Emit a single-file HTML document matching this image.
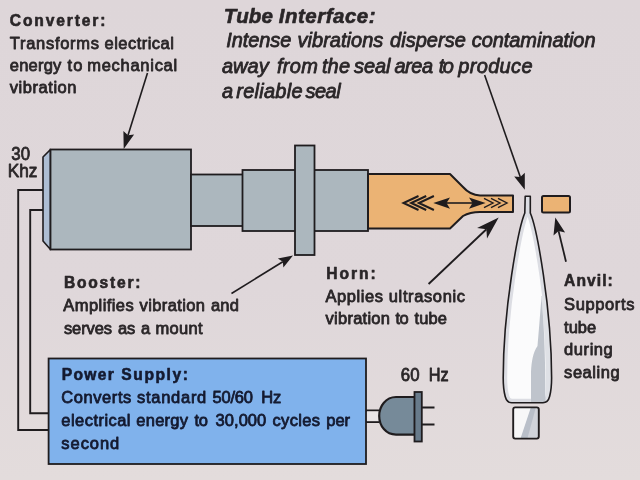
<!DOCTYPE html>
<html><head><meta charset="utf-8"><title>Ultrasonic tube sealing</title>
<style>
html,body{margin:0;padding:0;background:#dfd7da;}
body{width:640px;height:480px;overflow:hidden;font-family:"Liberation Sans",sans-serif;}
svg{display:block;filter:blur(0.45px);font-family:"Liberation Sans",sans-serif;}
</style></head>
<body>
<svg width="640" height="480" viewBox="0 0 640 480">
<defs><linearGradient id="bg" x1="0" y1="0" x2="0" y2="1"><stop offset="0" stop-color="#ded6d9"/><stop offset="0.6" stop-color="#dfd7da"/><stop offset="1" stop-color="#e3dcdc"/></linearGradient></defs>
<rect x="0" y="0" width="640" height="480" fill="url(#bg)"/>
<path d="M43,190 H18.2 V430 H49" fill="none" stroke="#1f1c1e" stroke-width="1.9"/>
<path d="M43,210 H30.2 V413.2 H49" fill="none" stroke="#1f1c1e" stroke-width="1.9"/>
<polygon points="50.5,149.5 43,157 43,241 50.5,249.5" fill="#adbdd3" stroke="#1f1c1e" stroke-width="1.6" stroke-linejoin="round"/>
<rect x="50.5" y="149.5" width="140.5" height="100" fill="#acb7be" stroke="#1f1c1e" stroke-width="1.8"/>
<rect x="191" y="174.5" width="52" height="51.5" fill="#acb7be" stroke="#1f1c1e" stroke-width="1.8"/>
<rect x="242.5" y="170" width="125.5" height="61" fill="#acb7be" stroke="#1f1c1e" stroke-width="1.8"/>
<rect x="295" y="145.5" width="19.5" height="109.5" fill="#acb7be" stroke="#1f1c1e" stroke-width="1.8"/>
<path d="M368,174 H450 L463,187 Q470,195 480,195.5 H513 V212 H480 Q470,212 463,216 L450,228.5 H368 Z" fill="#ebb374" stroke="#1f1c1e" stroke-width="2" stroke-linejoin="round"/>
<rect x="542" y="196" width="28" height="16.5" rx="1.5" fill="#ebb374" stroke="#1f1c1e" stroke-width="2"/>
<polyline points="418.5,196 403.5,203 418.5,210" fill="none" stroke="#1f1c1e" stroke-width="2"/>
<polyline points="426.2,196 411.2,203 426.2,210" fill="none" stroke="#1f1c1e" stroke-width="2"/>
<polyline points="433.9,196 418.9,203 433.9,210" fill="none" stroke="#1f1c1e" stroke-width="2"/>
<polyline points="484,198.4 493,203 484,207.6" fill="none" stroke="#1f1c1e" stroke-width="1.4"/>
<polyline points="491,198.4 500,203 491,207.6" fill="none" stroke="#1f1c1e" stroke-width="1.4"/>
<polyline points="498,198.4 507,203 498,207.6" fill="none" stroke="#1f1c1e" stroke-width="1.4"/>
<line x1="445" y1="203" x2="474" y2="203" stroke="#1f1c1e" stroke-width="1.6"/>
<polygon points="433.3,203 450,197.5 446.5,203 450,208.7" fill="#1f1c1e"/>
<polygon points="485.6,203 469,197.5 472.5,203 469,208.7" fill="#1f1c1e"/>
<clipPath id="tc"><path d="M525.2,196.3 H530.3 V213 C536.8,228 551.6,308 551.6,378 C551.6,386 550.8,392 549.6,396.5 Q548,402.7 543,402.7 H511.8 Q506.8,402.7 505.2,396.5 C504,392 503.2,386 503.2,378 C503.2,308 518.5,228 524.8,213 Z"/></clipPath>
<path d="M525.2,196.3 H530.3 V213 C536.8,228 551.6,308 551.6,378 C551.6,386 550.8,392 549.6,396.5 Q548,402.7 543,402.7 H511.8 Q506.8,402.7 505.2,396.5 C504,392 503.2,386 503.2,378 C503.2,308 518.5,228 524.8,213 Z" fill="#fbfbfc"/>
<g clip-path="url(#tc)"><path d="M525.2,196.3 H530.3 V213 C536.8,228 551.6,308 551.6,378 C551.6,386 550.8,392 549.6,396.5 Q548,402.7 543,402.7 H511.8 Q506.8,402.7 505.2,396.5 C504,392 503.2,386 503.2,378 C503.2,308 518.5,228 524.8,213 Z" fill="none" stroke="#dcdde3" stroke-width="8"/><path d="M541,296 C544,320 546,350 546,404 H553 V296 Z" fill="#dfe1e6"/><path d="M541.5,297 C543,315 545.5,340 545.5,404 H531 V372 C531.5,362 533,352 537.5,346 C538.5,335 540,315 541.5,297 Z" fill="#bfc4cc"/></g>
<path d="M525.2,196.3 H530.3 V213 C536.8,228 551.6,308 551.6,378 C551.6,386 550.8,392 549.6,396.5 Q548,402.7 543,402.7 H511.8 Q506.8,402.7 505.2,396.5 C504,392 503.2,386 503.2,378 C503.2,308 518.5,228 524.8,213 Z" fill="none" stroke="#1f1c1e" stroke-width="1.6" stroke-linejoin="round"/>
<clipPath id="cc"><rect x="513.2" y="407.4" width="25.6" height="31.2" rx="2"/></clipPath>
<rect x="513.2" y="407.4" width="25.6" height="31.2" rx="2" fill="#f7f7f8"/>
<g clip-path="url(#cc)"><path d="M536,407 L523,440 H540 V407 Z" fill="#d0d3da"/><path d="M531,407 L520,440 H527 L536,407 Z" fill="#b9bfc9"/></g>
<rect x="513.2" y="407.4" width="25.6" height="31.2" rx="2" fill="none" stroke="#1f1c1e" stroke-width="1.9"/>
<rect x="48.6" y="358.5" width="317.4" height="105.5" fill="#80b2ec" stroke="#1f1c1e" stroke-width="1.8"/>
<path d="M366,410.5 H379 M366,422 H379" stroke="#1f1c1e" stroke-width="1.8" fill="none"/>
<rect x="367" y="411.4" width="12" height="9.8" fill="#e9e5e6"/>
<path d="M415,397 H396 C386,397 379.2,406 379.2,416 C379.2,426 386,434.6 396,434.6 H415 Z" fill="#768a99" stroke="#1f1c1e" stroke-width="2.2"/>
<rect x="414.5" y="392" width="7.3" height="49.5" fill="#687b8b" stroke="#1f1c1e" stroke-width="1.8"/>
<path d="M422,407.5 H434.5 M422,424.5 H434.5" stroke="#1f1c1e" stroke-width="2"/>
<line x1="147.5" y1="72.9" x2="128.0" y2="135.2" stroke="#1f1c1e" stroke-width="1.6"/><polygon points="123.7,149.0 123.4,131.1 128.0,135.2 134.1,134.4" fill="#1f1c1e"/>
<line x1="484.6" y1="75.1" x2="520.3" y2="177.1" stroke="#1f1c1e" stroke-width="1.6"/><polygon points="524.8,189.8 514.2,176.6 520.3,177.1 524.8,172.8" fill="#1f1c1e"/>
<line x1="231.5" y1="293.5" x2="282.8" y2="261.7" stroke="#1f1c1e" stroke-width="1.6"/><polygon points="293.0,255.4 283.4,267.5 282.8,261.7 277.9,258.6" fill="#1f1c1e"/>
<line x1="428.6" y1="284.0" x2="486.4" y2="229.2" stroke="#1f1c1e" stroke-width="1.9"/><polygon points="498.7,217.5 487.0,238.6 486.4,229.2 477.1,228.1" fill="#1f1c1e"/>
<line x1="566.0" y1="261.7" x2="558.6" y2="231.1" stroke="#1f1c1e" stroke-width="1.8"/><polygon points="555.3,217.5 565.1,232.6 558.6,231.1 553.5,235.4" fill="#1f1c1e"/>
<text x="9.8" y="26" font-size="15.6" font-weight="bold" font-style="normal" fill="#2a2628" stroke="#2a2628" stroke-width="0.6000000000000001" stroke-linejoin="round" textLength="95.7" lengthAdjust="spacing">Converter:</text>
<text x="9.8" y="48.8" font-size="16.5" font-weight="normal" font-style="normal" fill="#2a2628" stroke="#2a2628" stroke-width="0.8" stroke-linejoin="round" textLength="89.2" lengthAdjust="spacing">Transforms</text><text x="104.6" y="48.8" font-size="16.5" font-weight="normal" font-style="normal" fill="#2a2628" stroke="#2a2628" stroke-width="0.8" stroke-linejoin="round" textLength="69.2" lengthAdjust="spacing">electrical</text>
<text x="9.8" y="71.2" font-size="16.5" font-weight="normal" font-style="normal" fill="#2a2628" stroke="#2a2628" stroke-width="0.8" stroke-linejoin="round" textLength="51.5" lengthAdjust="spacing">energy</text><text x="67.5" y="71.2" font-size="16.5" font-weight="normal" font-style="normal" fill="#2a2628" stroke="#2a2628" stroke-width="0.8" stroke-linejoin="round" textLength="14.9" lengthAdjust="spacing">to</text><text x="87.2" y="71.2" font-size="16.5" font-weight="normal" font-style="normal" fill="#2a2628" stroke="#2a2628" stroke-width="0.8" stroke-linejoin="round" textLength="90.0" lengthAdjust="spacing">mechanical</text>
<text x="9.8" y="93" font-size="16.5" font-weight="normal" font-style="normal" fill="#2a2628" stroke="#2a2628" stroke-width="0.8" stroke-linejoin="round" textLength="66.7" lengthAdjust="spacing">vibration</text>
<text x="223.8" y="22.5" font-size="20.5" font-weight="bold" font-style="italic" fill="#2a2628" stroke="#2a2628" stroke-width="0.6000000000000001" stroke-linejoin="round" textLength="49.2" lengthAdjust="spacing">Tube</text><text x="278.8" y="22.5" font-size="20.5" font-weight="bold" font-style="italic" fill="#2a2628" stroke="#2a2628" stroke-width="0.6000000000000001" stroke-linejoin="round" textLength="96.8" lengthAdjust="spacing">Interface:</text>
<text x="226.3" y="47.3" font-size="20" font-weight="normal" font-style="italic" fill="#2a2628" stroke="#2a2628" stroke-width="0.8" stroke-linejoin="round" textLength="65.0" lengthAdjust="spacing">Intense</text><text x="297.5" y="47.3" font-size="20" font-weight="normal" font-style="italic" fill="#2a2628" stroke="#2a2628" stroke-width="0.8" stroke-linejoin="round" textLength="85.8" lengthAdjust="spacing">vibrations</text><text x="390" y="47.3" font-size="20" font-weight="normal" font-style="italic" fill="#2a2628" stroke="#2a2628" stroke-width="0.8" stroke-linejoin="round" textLength="75.8" lengthAdjust="spacing">disperse</text><text x="471.8" y="47.3" font-size="20" font-weight="normal" font-style="italic" fill="#2a2628" stroke="#2a2628" stroke-width="0.8" stroke-linejoin="round" textLength="123.7" lengthAdjust="spacing">contamination</text>
<text x="221.9" y="73.2" font-size="20" font-weight="normal" font-style="italic" fill="#2a2628" stroke="#2a2628" stroke-width="0.8" stroke-linejoin="round" textLength="46.9" lengthAdjust="spacing">away</text><text x="276.9" y="73.2" font-size="20" font-weight="normal" font-style="italic" fill="#2a2628" stroke="#2a2628" stroke-width="0.8" stroke-linejoin="round" textLength="41.1" lengthAdjust="spacing">from</text><text x="321.9" y="73.2" font-size="20" font-weight="normal" font-style="italic" fill="#2a2628" stroke="#2a2628" stroke-width="0.8" stroke-linejoin="round" textLength="28.1" lengthAdjust="spacing">the</text><text x="354" y="73.2" font-size="20" font-weight="normal" font-style="italic" fill="#2a2628" stroke="#2a2628" stroke-width="0.8" stroke-linejoin="round" textLength="36.5" lengthAdjust="spacing">seal</text><text x="394.5" y="73.2" font-size="20" font-weight="normal" font-style="italic" fill="#2a2628" stroke="#2a2628" stroke-width="0.8" stroke-linejoin="round" textLength="38.5" lengthAdjust="spacing">area</text><text x="438.8" y="73.2" font-size="20" font-weight="normal" font-style="italic" fill="#2a2628" stroke="#2a2628" stroke-width="0.8" stroke-linejoin="round" textLength="15.0" lengthAdjust="spacing">to</text><text x="458.3" y="73.2" font-size="20" font-weight="normal" font-style="italic" fill="#2a2628" stroke="#2a2628" stroke-width="0.8" stroke-linejoin="round" textLength="74.2" lengthAdjust="spacing">produce</text>
<text x="221.9" y="97.5" font-size="20" font-weight="normal" font-style="italic" fill="#2a2628" stroke="#2a2628" stroke-width="0.8" stroke-linejoin="round" textLength="10.9" lengthAdjust="spacing">a</text><text x="236.3" y="97.5" font-size="20" font-weight="normal" font-style="italic" fill="#2a2628" stroke="#2a2628" stroke-width="0.8" stroke-linejoin="round" textLength="66.2" lengthAdjust="spacing">reliable</text><text x="305.6" y="97.5" font-size="20" font-weight="normal" font-style="italic" fill="#2a2628" stroke="#2a2628" stroke-width="0.8" stroke-linejoin="round" textLength="35.0" lengthAdjust="spacing">seal</text>
<text x="11.3" y="160" font-size="19" font-weight="normal" font-style="normal" fill="#2a2628" stroke="#2a2628" stroke-width="0.8" stroke-linejoin="round" textLength="18.7" lengthAdjust="spacingAndGlyphs">30</text>
<text x="7.8" y="177.2" font-size="19" font-weight="normal" font-style="normal" fill="#2a2628" stroke="#2a2628" stroke-width="0.8" stroke-linejoin="round" textLength="29.7" lengthAdjust="spacingAndGlyphs">Khz</text>
<text x="63.9" y="288.2" font-size="15.6" font-weight="bold" font-style="normal" fill="#2a2628" stroke="#2a2628" stroke-width="0.6000000000000001" stroke-linejoin="round" textLength="76.6" lengthAdjust="spacing">Booster:</text>
<text x="63.3" y="311.2" font-size="16.5" font-weight="normal" font-style="normal" fill="#2a2628" stroke="#2a2628" stroke-width="0.8" stroke-linejoin="round" textLength="70.4" lengthAdjust="spacing">Amplifies</text><text x="139.6" y="311.2" font-size="16.5" font-weight="normal" font-style="normal" fill="#2a2628" stroke="#2a2628" stroke-width="0.8" stroke-linejoin="round" textLength="65.4" lengthAdjust="spacing">vibration</text><text x="210.9" y="311.2" font-size="16.5" font-weight="normal" font-style="normal" fill="#2a2628" stroke="#2a2628" stroke-width="0.8" stroke-linejoin="round" textLength="28.1" lengthAdjust="spacing">and</text>
<text x="63.9" y="334" font-size="16.5" font-weight="normal" font-style="normal" fill="#2a2628" stroke="#2a2628" stroke-width="0.8" stroke-linejoin="round" textLength="48.1" lengthAdjust="spacing">serves</text><text x="118" y="334" font-size="16.5" font-weight="normal" font-style="normal" fill="#2a2628" stroke="#2a2628" stroke-width="0.8" stroke-linejoin="round" textLength="17.2" lengthAdjust="spacing">as</text><text x="141" y="334" font-size="16.5" font-weight="normal" font-style="normal" fill="#2a2628" stroke="#2a2628" stroke-width="0.8" stroke-linejoin="round" textLength="8.4" lengthAdjust="spacing">a</text><text x="155.4" y="334" font-size="16.5" font-weight="normal" font-style="normal" fill="#2a2628" stroke="#2a2628" stroke-width="0.8" stroke-linejoin="round" textLength="47.2" lengthAdjust="spacing">mount</text>
<text x="326.3" y="278.8" font-size="15.6" font-weight="bold" font-style="normal" fill="#2a2628" stroke="#2a2628" stroke-width="0.6000000000000001" stroke-linejoin="round" textLength="49.5" lengthAdjust="spacing">Horn:</text>
<text x="325.5" y="301.6" font-size="16.5" font-weight="normal" font-style="normal" fill="#2a2628" stroke="#2a2628" stroke-width="0.8" stroke-linejoin="round" textLength="57.5" lengthAdjust="spacing">Applies</text><text x="388.8" y="301.6" font-size="16.5" font-weight="normal" font-style="normal" fill="#2a2628" stroke="#2a2628" stroke-width="0.8" stroke-linejoin="round" textLength="76.2" lengthAdjust="spacing">ultrasonic</text>
<text x="325.5" y="324.2" font-size="16.5" font-weight="normal" font-style="normal" fill="#2a2628" stroke="#2a2628" stroke-width="0.8" stroke-linejoin="round" textLength="64.5" lengthAdjust="spacing">vibration</text><text x="395.5" y="324.2" font-size="16.5" font-weight="normal" font-style="normal" fill="#2a2628" stroke="#2a2628" stroke-width="0.8" stroke-linejoin="round" textLength="13.3" lengthAdjust="spacing">to</text><text x="414.5" y="324.2" font-size="16.5" font-weight="normal" font-style="normal" fill="#2a2628" stroke="#2a2628" stroke-width="0.8" stroke-linejoin="round" textLength="32.5" lengthAdjust="spacing">tube</text>
<text x="564.1" y="286.4" font-size="15.6" font-weight="bold" font-style="normal" fill="#2a2628" stroke="#2a2628" stroke-width="0.6000000000000001" stroke-linejoin="round" textLength="48.7" lengthAdjust="spacing">Anvil:</text>
<text x="564.1" y="309.8" font-size="16.5" font-weight="normal" font-style="normal" fill="#2a2628" stroke="#2a2628" stroke-width="0.8" stroke-linejoin="round" textLength="70.3" lengthAdjust="spacing">Supports</text>
<text x="564.1" y="332.7" font-size="16.5" font-weight="normal" font-style="normal" fill="#2a2628" stroke="#2a2628" stroke-width="0.8" stroke-linejoin="round" textLength="32.0" lengthAdjust="spacing">tube</text>
<text x="564.1" y="355.4" font-size="16.5" font-weight="normal" font-style="normal" fill="#2a2628" stroke="#2a2628" stroke-width="0.8" stroke-linejoin="round" textLength="48.7" lengthAdjust="spacing">during</text>
<text x="564.1" y="377.8" font-size="16.5" font-weight="normal" font-style="normal" fill="#2a2628" stroke="#2a2628" stroke-width="0.8" stroke-linejoin="round" textLength="55.5" lengthAdjust="spacing">sealing</text>
<text x="61.8" y="380" font-size="15.6" font-weight="bold" font-style="normal" fill="#141a30" stroke="#141a30" stroke-width="0.6000000000000001" stroke-linejoin="round" textLength="52.0" lengthAdjust="spacing">Power</text><text x="121.3" y="380" font-size="15.6" font-weight="bold" font-style="normal" fill="#141a30" stroke="#141a30" stroke-width="0.6000000000000001" stroke-linejoin="round" textLength="66.7" lengthAdjust="spacing">Supply:</text>
<text x="61.3" y="403" font-size="16.5" font-weight="normal" font-style="normal" fill="#141a30" stroke="#141a30" stroke-width="0.8" stroke-linejoin="round" textLength="70.0" lengthAdjust="spacing">Converts</text><text x="137" y="403" font-size="16.5" font-weight="normal" font-style="normal" fill="#141a30" stroke="#141a30" stroke-width="0.8" stroke-linejoin="round" textLength="69.3" lengthAdjust="spacing">standard</text><text x="212.5" y="403" font-size="16.5" font-weight="normal" font-style="normal" fill="#141a30" stroke="#141a30" stroke-width="0.8" stroke-linejoin="round" textLength="40.5" lengthAdjust="spacing">50/60</text><text x="261.3" y="403" font-size="16.5" font-weight="normal" font-style="normal" fill="#141a30" stroke="#141a30" stroke-width="0.8" stroke-linejoin="round" textLength="20.0" lengthAdjust="spacing">Hz</text>
<text x="61.3" y="426" font-size="16.5" font-weight="normal" font-style="normal" fill="#141a30" stroke="#141a30" stroke-width="0.8" stroke-linejoin="round" textLength="69.2" lengthAdjust="spacing">electrical</text><text x="136.3" y="426" font-size="16.5" font-weight="normal" font-style="normal" fill="#141a30" stroke="#141a30" stroke-width="0.8" stroke-linejoin="round" textLength="51.7" lengthAdjust="spacing">energy</text><text x="194.5" y="426" font-size="16.5" font-weight="normal" font-style="normal" fill="#141a30" stroke="#141a30" stroke-width="0.8" stroke-linejoin="round" textLength="13.5" lengthAdjust="spacing">to</text><text x="215.5" y="426" font-size="16.5" font-weight="normal" font-style="normal" fill="#141a30" stroke="#141a30" stroke-width="0.8" stroke-linejoin="round" textLength="50.8" lengthAdjust="spacing">30,000</text><text x="272.5" y="426" font-size="16.5" font-weight="normal" font-style="normal" fill="#141a30" stroke="#141a30" stroke-width="0.8" stroke-linejoin="round" textLength="47.5" lengthAdjust="spacing">cycles</text><text x="326.3" y="426" font-size="16.5" font-weight="normal" font-style="normal" fill="#141a30" stroke="#141a30" stroke-width="0.8" stroke-linejoin="round" textLength="23.7" lengthAdjust="spacing">per</text>
<text x="61.3" y="448.7" font-size="16.5" font-weight="normal" font-style="normal" fill="#141a30" stroke="#141a30" stroke-width="0.8" stroke-linejoin="round" textLength="58.0" lengthAdjust="spacing">second</text>
<text x="400.8" y="380.5" font-size="18.5" font-weight="normal" font-style="normal" fill="#2a2628" stroke="#2a2628" stroke-width="0.8" stroke-linejoin="round" textLength="18.7" lengthAdjust="spacingAndGlyphs">60</text>
<text x="428.8" y="380.5" font-size="18.5" font-weight="normal" font-style="normal" fill="#2a2628" stroke="#2a2628" stroke-width="0.8" stroke-linejoin="round" textLength="20" lengthAdjust="spacingAndGlyphs">Hz</text>
</svg>
</body></html>
